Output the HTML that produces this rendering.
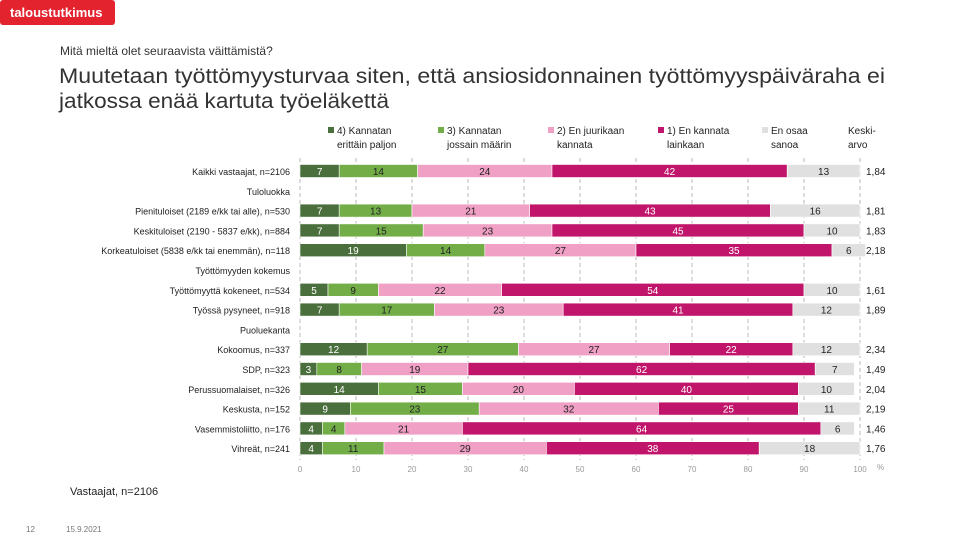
<!DOCTYPE html>
<html><head><meta charset="utf-8"><style>
body{margin:0;background:#fff;}
svg{display:block;font-family:"Liberation Sans",sans-serif;}
</style></head><body>
<svg id="chart" width="960" height="540" viewBox="0 0 960 540">
<rect x="0" y="0" width="115" height="25" rx="3" fill="#e3232e"/>
<text x="10" y="17" font-size="13" font-weight="bold" fill="#fff">taloustutkimus</text>
<text x="60" y="55" font-size="12" fill="#333">Mitä mieltä olet seuraavista väittämistä?</text>
<text x="59" y="83" font-size="21" fill="#333" textLength="826" lengthAdjust="spacingAndGlyphs">Muutetaan työttömyysturvaa siten, että ansiosidonnainen työttömyyspäiväraha ei</text>
<text x="59" y="108" font-size="21" fill="#333" textLength="330" lengthAdjust="spacingAndGlyphs">jatkossa enää kartuta työeläkettä</text>
<g id="grid"></g><g id="bars"></g><g id="legend"></g>
<text x="70" y="495" font-size="11" fill="#222">Vastaajat, n=2106</text>
<text x="26" y="532" font-size="8" fill="#777">12</text>
<text x="66" y="532" font-size="8" fill="#777">15.9.2021</text>
</svg>
<script>
const rowLabels=["Kaikki vastaajat, n=2106","Tuloluokka","Pienituloiset (2189 e/kk tai alle), n=530","Keskituloiset (2190 - 5837 e/kk), n=884","Korkeatuloiset (5838 e/kk tai enemmän), n=118","Työttömyyden kokemus","Työttömyyttä kokeneet, n=534","Työssä pysyneet, n=918","Puoluekanta","Kokoomus, n=337","SDP, n=323","Perussuomalaiset, n=326","Keskusta, n=152","Vasemmistoliitto, n=176","Vihreät, n=241"];
const s4=[7,null,7,7,19,null,5,7,null,12,3,14,9,4,4];
const s3=[14,null,13,15,14,null,9,17,null,27,8,15,23,4,11];
const s2=[24,null,21,23,27,null,22,23,null,27,19,20,32,21,29];
const s1=[42,null,43,45,35,null,54,41,null,22,62,40,25,64,38];
const s0=[13,null,16,10,6,null,10,12,null,12,7,10,11,6,18];
const means=["1,84",null,"1,81","1,83","2,18",null,"1,61","1,89",null,"2,34","1,49","2,04","2,19","1,46","1,76"];
const seriesNames=["4) Kannatan|erittäin paljon","3) Kannatan|jossain määrin","2) En juurikaan|kannata","1) En kannata|lainkaan","En osaa|sanoa"];
const ticks=[0,10,20,30,40,50,60,70,80,90,100];
const NS="http://www.w3.org/2000/svg";
const colors=["#4a6e3c","#72ad48","#f0a0c4","#c0156a","#e0e0e0"];
const textCol=["#fff","#222","#222","#fff","#222"];
const x=v=>300+v*5.6;
const y=i=>171+i*19.8;
function mk(t,a,p){const e=document.createElementNS(NS,t);for(const k in a)e.setAttribute(k,a[k]);p.appendChild(e);return e;}
const grid=document.getElementById('grid'),bars=document.getElementById('bars'),leg=document.getElementById('legend');
ticks.forEach(t=>{
 const l=mk('line',{x1:x(t),x2:x(t),y1:158,y2:460,stroke:'#aaa','stroke-dasharray':'4,3','stroke-width':0.8},grid);
 
 
 const tx=mk('text',{x:x(t),y:472,'font-size':8,fill:'#999','text-anchor':'middle'},grid);
 tx.textContent=t;
 
 
});
const pct=mk('text',{x:877,y:470,'font-size':8,fill:'#999'},grid);pct.textContent='%';


const series=[s4,s3,s2,s1,s0];
rowLabels.forEach((lab,i)=>{
 const cy=y(i);
 const t=mk('text',{x:290,y:cy+4,'font-size':9,fill:'#222','text-anchor':'end'},bars);
 t.textContent=lab;
 
 
 if(s4[i]==null)return;
 let c=0;
 series.forEach((s,k)=>{
  const v=s[i];
  const r=mk('rect',{x:x(c),y:cy-6.5,width:v*5.6,height:13,fill:colors[k],stroke:'#fff','stroke-width':0.6},bars);
  
  
  const lt=mk('text',{x:x(c+v/2),y:cy+4,'font-size':10,fill:textCol[k],'text-anchor':'middle'},bars);
  lt.textContent=v;
  
  
  c+=v;
 });
 const m=mk('text',{x:866,y:cy+4,'font-size':10,fill:'#222'},bars);
 m.textContent=means[i];
 
 
});
const lx=[328,438,548,658,762];
seriesNames.forEach((n,k)=>{
 const r=mk('rect',{x:lx[k],y:127,width:6,height:6,fill:colors[k]},leg);
 
 
 const p=n.split('|');
 p.forEach((s,j)=>{
  const t=mk('text',{x:lx[k]+9+(j?-0:0),y:134+j*14,'font-size':10,fill:'#222'},leg);
  t.textContent=s;
  
  
 });
});
['Keski-','arvo'].forEach((s,j)=>{
 const t=mk('text',{x:848,y:134+j*14,'font-size':10,fill:'#222'},leg);
 t.textContent=s;
 
 
});
</script>
</body></html>
